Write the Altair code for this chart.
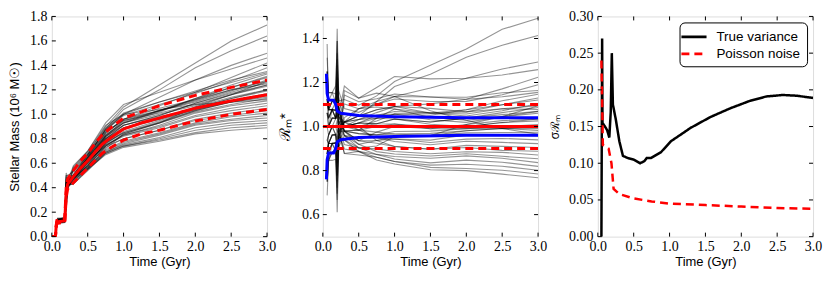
import altair as alt
import pandas as pd

W, H = 216, 221

# ---------------- data ----------------
TRACK_T = [0.06, 0.08, 0.13, 0.18, 0.2, 0.22, 0.3, 0.5, 0.75, 1.0, 1.5, 2.0, 2.5, 3.0]
TRACKS = [
    [0.09, 0.14, 0.145, 0.15, 0.45, 0.48, 0.55, 0.68, 0.90, 1.06, 1.24, 1.42, 1.60, 1.73],
    [0.07, 0.12, 0.125, 0.13, 0.30, 0.44, 0.50, 0.65, 0.88, 1.04, 1.20, 1.38, 1.52, 1.64],
    [0.10, 0.15, 0.15, 0.16, 0.50, 0.50, 0.53, 0.66, 0.87, 1.00, 1.14, 1.28, 1.40, 1.50],
    [0.06, 0.11, 0.12, 0.12, 0.25, 0.40, 0.57, 0.70, 0.93, 1.08, 1.18, 1.28, 1.37, 1.46],
    [0.08, 0.13, 0.13, 0.14, 0.40, 0.45, 0.49, 0.64, 0.84, 0.96, 1.07, 1.18, 1.30, 1.42],
    [0.11, 0.14, 0.14, 0.15, 0.52, 0.49, 0.50, 0.67, 0.87, 0.99, 1.08, 1.17, 1.27, 1.38],
    [0.055, 0.11, 0.115, 0.12, 0.22, 0.38, 0.56, 0.69, 0.89, 1.01, 1.10, 1.18, 1.26, 1.34],
    [0.085, 0.135, 0.14, 0.14, 0.38, 0.44, 0.48, 0.61, 0.82, 0.95, 1.03, 1.12, 1.22, 1.31],
    [0.075, 0.12, 0.125, 0.13, 0.33, 0.42, 0.50, 0.65, 0.85, 0.96, 1.03, 1.10, 1.19, 1.28],
    [0.09, 0.14, 0.14, 0.145, 0.42, 0.46, 0.49, 0.63, 0.80, 0.91, 0.99, 1.09, 1.18, 1.26],
    [0.065, 0.115, 0.12, 0.125, 0.28, 0.41, 0.51, 0.67, 0.86, 0.95, 1.01, 1.08, 1.16, 1.23],
    [0.10, 0.145, 0.15, 0.15, 0.48, 0.47, 0.47, 0.58, 0.77, 0.88, 0.96, 1.06, 1.14, 1.20],
    [0.08, 0.125, 0.13, 0.135, 0.36, 0.43, 0.50, 0.64, 0.82, 0.91, 0.98, 1.05, 1.13, 1.19],
    [0.07, 0.12, 0.12, 0.125, 0.31, 0.42, 0.48, 0.60, 0.76, 0.86, 0.95, 1.04, 1.11, 1.17],
    [0.085, 0.13, 0.135, 0.14, 0.39, 0.44, 0.49, 0.63, 0.80, 0.89, 0.96, 1.04, 1.10, 1.15],
    [0.06, 0.11, 0.115, 0.12, 0.26, 0.40, 0.50, 0.61, 0.77, 0.85, 0.93, 1.02, 1.08, 1.13],
    [0.095, 0.14, 0.145, 0.15, 0.44, 0.46, 0.48, 0.58, 0.74, 0.83, 0.91, 1.01, 1.07, 1.11],
    [0.075, 0.125, 0.13, 0.13, 0.35, 0.43, 0.47, 0.59, 0.75, 0.83, 0.90, 0.99, 1.05, 1.09],
    [0.08, 0.13, 0.13, 0.135, 0.37, 0.43, 0.49, 0.61, 0.75, 0.82, 0.89, 0.98, 1.03, 1.07],
    [0.09, 0.135, 0.14, 0.14, 0.41, 0.45, 0.48, 0.58, 0.73, 0.80, 0.87, 0.96, 1.01, 1.05],
    [0.07, 0.12, 0.125, 0.13, 0.32, 0.42, 0.50, 0.62, 0.74, 0.80, 0.87, 0.95, 0.99, 1.03],
    [0.105, 0.15, 0.15, 0.155, 0.50, 0.43, 0.45, 0.56, 0.71, 0.78, 0.85, 0.93, 0.98, 1.01],
    [0.065, 0.115, 0.12, 0.12, 0.27, 0.40, 0.48, 0.57, 0.70, 0.77, 0.84, 0.92, 0.96, 0.99],
    [0.08, 0.13, 0.135, 0.14, 0.38, 0.42, 0.44, 0.55, 0.69, 0.76, 0.83, 0.91, 0.95, 0.97],
    [0.06, 0.11, 0.11, 0.115, 0.24, 0.39, 0.47, 0.56, 0.69, 0.75, 0.81, 0.89, 0.93, 0.95],
    [0.085, 0.135, 0.14, 0.14, 0.40, 0.42, 0.43, 0.54, 0.68, 0.74, 0.80, 0.87, 0.91, 0.93],
    [0.075, 0.12, 0.12, 0.125, 0.30, 0.41, 0.46, 0.55, 0.68, 0.74, 0.79, 0.85, 0.89, 0.91],
    [0.09, 0.14, 0.14, 0.145, 0.43, 0.42, 0.43, 0.55, 0.67, 0.73, 0.78, 0.84, 0.87, 0.89],
    [0.07, 0.125, 0.13, 0.13, 0.34, 0.43, 0.54, 0.67, 0.88, 1.00, 1.10, 1.19, 1.28, 1.35],
    [0.10, 0.14, 0.145, 0.15, 0.46, 0.47, 0.49, 0.63, 0.83, 0.93, 1.02, 1.13, 1.24, 1.33],
    [0.08, 0.13, 0.135, 0.14, 0.39, 0.45, 0.58, 0.70, 0.91, 1.00, 1.04, 1.08, 1.10, 1.12],
    [0.065, 0.12, 0.12, 0.125, 0.29, 0.41, 0.46, 0.56, 0.72, 0.84, 0.93, 1.06, 1.16, 1.24],
    [0.085, 0.13, 0.14, 0.14, 0.40, 0.45, 0.50, 0.64, 0.83, 0.94, 1.03, 1.13, 1.22, 1.30],
    [0.075, 0.125, 0.13, 0.135, 0.35, 0.43, 0.49, 0.62, 0.80, 0.91, 0.99, 1.09, 1.17, 1.24],
    [0.09, 0.135, 0.14, 0.145, 0.42, 0.45, 0.48, 0.61, 0.79, 0.89, 0.97, 1.05, 1.13, 1.20],
    [0.07, 0.12, 0.125, 0.13, 0.32, 0.42, 0.49, 0.63, 0.82, 0.93, 1.00, 1.07, 1.16, 1.27],
    [0.10, 0.14, 0.145, 0.15, 0.47, 0.47, 0.48, 0.60, 0.76, 0.85, 0.94, 1.03, 1.10, 1.16],
    [0.065, 0.115, 0.12, 0.125, 0.28, 0.41, 0.50, 0.65, 0.85, 0.96, 1.05, 1.12, 1.20, 1.27],
    [0.08, 0.13, 0.135, 0.14, 0.38, 0.44, 0.47, 0.57, 0.74, 0.84, 0.93, 1.03, 1.10, 1.14],
    [0.095, 0.14, 0.14, 0.145, 0.44, 0.46, 0.49, 0.62, 0.81, 0.93, 1.03, 1.11, 1.20, 1.25],
]
MEAN_AT_TRACK_T = [0.08, 0.13, 0.13, 0.135, 0.36, 0.43, 0.49, 0.62, 0.79, 0.88, 0.97, 1.05, 1.11, 1.16]

MEAN_T = [0.0, 0.05, 0.06, 0.07, 0.18, 0.2, 0.22, 0.3, 0.4, 0.5, 0.6, 0.7, 0.8, 1.0, 1.25, 1.5, 2.0, 2.5, 3.0]
MEAN_M = [0.0, 0.0, 0.08, 0.12, 0.13, 0.36, 0.43, 0.49, 0.56, 0.62, 0.69, 0.755, 0.80, 0.88, 0.93, 0.97, 1.05, 1.11, 1.16]
UPPER_M = [0.0, 0.0, 0.088, 0.132, 0.143, 0.40, 0.47, 0.54, 0.62, 0.68, 0.76, 0.83, 0.88, 0.97, 1.02, 1.07, 1.155, 1.22, 1.28]
LOWER_M = [0.0, 0.0, 0.072, 0.108, 0.117, 0.32, 0.39, 0.44, 0.50, 0.56, 0.62, 0.68, 0.72, 0.79, 0.84, 0.87, 0.945, 1.00, 1.04]

BLUE_T = [0.05, 0.06, 0.08, 0.15, 0.18, 0.2, 0.25, 0.5, 1.0, 2.0, 3.0]
BLUE_UP = [1.24, 1.15, 1.12, 1.12, 1.10, 1.07, 1.06, 1.05, 1.045, 1.04, 1.04]
BLUE_LO = [0.76, 0.85, 0.88, 0.88, 0.90, 0.93, 0.94, 0.95, 0.955, 0.96, 0.96]
REF_T = [0.0, 3.0]
REF_LEVELS = [0.9, 1.0, 1.1]
REF_KIND = ["lo", "mid", "hi"]

TRUE_T = [0.05, 0.06, 0.065, 0.1, 0.13, 0.16, 0.18, 0.195, 0.21, 0.25, 0.3, 0.35, 0.42, 0.5, 0.59,
          0.65, 0.68, 0.74, 0.88, 1.02, 1.29, 1.57, 1.85, 2.12, 2.35, 2.58, 2.77, 3.0]
TRUE_V = [0.0, 0.27, 0.155, 0.15, 0.145, 0.135, 0.17, 0.25, 0.18, 0.16, 0.13, 0.11, 0.107, 0.105, 0.10,
          0.103, 0.107, 0.107, 0.115, 0.13, 0.148, 0.163, 0.175, 0.185, 0.191, 0.193, 0.192, 0.189]
POIS_T = [0.05, 0.07, 0.15, 0.19, 0.22, 0.3, 0.5, 0.75, 1.0, 1.5, 2.0, 2.5, 3.0]
POIS_V = [0.24, 0.125, 0.12, 0.10, 0.065, 0.058, 0.052, 0.048, 0.045, 0.043, 0.041, 0.039, 0.038]

X_TICKS = [0.0, 0.5, 1.0, 1.5, 2.0, 2.5, 3.0]
Y1_TICKS = [0.0, 0.2, 0.4, 0.6, 0.8, 1.0, 1.2, 1.4, 1.6, 1.8]
Y2_TICKS = [0.6, 0.8, 1.0, 1.2, 1.4]
Y3_TICKS = [0.0, 0.05, 0.10, 0.15, 0.20, 0.25, 0.30]

# ---------------- tables ----------------
rows1, rows2 = [], []
for i, tr in enumerate(TRACKS):
    rows1.append({"id": i, "t": 0.0, "v": 0.0})
    rows1.append({"id": i, "t": 0.05, "v": 0.0})
    for t, v, m in zip(TRACK_T, tr, MEAN_AT_TRACK_T):
        rows1.append({"id": i, "t": t, "v": v})
        rows2.append({"id": i, "t": t, "v": v / m})
tracks1 = pd.DataFrame(rows1)
tracks2 = pd.DataFrame(rows2)

mean_df = pd.DataFrame({"t": MEAN_T * 3,
                        "v": MEAN_M + UPPER_M + LOWER_M,
                        "k": ["mid"] * len(MEAN_T) + ["hi"] * len(MEAN_T) + ["lo"] * len(MEAN_T)})
blue_df = pd.DataFrame({"t": BLUE_T * 2, "v": BLUE_UP + BLUE_LO,
                        "k": ["hi"] * len(BLUE_T) + ["lo"] * len(BLUE_T)})
ref_rows = []
for lv, kd in zip(REF_LEVELS, REF_KIND):
    for t in REF_T:
        ref_rows.append({"t": t, "v": lv, "k": kd})
ref_df = pd.DataFrame(ref_rows)
var_df = pd.DataFrame({"t": TRUE_T + POIS_T, "v": TRUE_V + POIS_V,
                       "s": ["True variance"] * len(TRUE_T) + ["Poisson noise"] * len(POIS_T)})

SERIF = "Liberation Serif"
SANS = "Liberation Sans"
GRAY_OP = 0.42


def xaxis():
    return alt.Axis(values=X_TICKS, format=".1f", ticks=False, domain=False, grid=False,
                    labelFont=SERIF, labelFontSize=14, labelColor="black", labelPadding=3,
                    labelFlush=False, labelOverlap=False,
                    title="Time (Gyr)", titleFont=SANS, titleFontSize=13, titleFontWeight="normal",
                    titleColor="black", titlePadding=2)


def yaxis(values, fmt, title, tsize, tpad, lpad):
    return alt.Axis(values=values, format=fmt, ticks=False, domain=False, grid=False,
                    labelFont=SERIF, labelFontSize=14, labelColor="black", labelPadding=lpad,
                    labelFlush=False, labelOverlap=False,
                    title=title, titleFont=SANS, titleFontSize=tsize, titleFontWeight="normal",
                    titleColor="black", titlePadding=tpad)


XS = alt.Scale(domain=[0, 3], nice=False, zero=False)
DASH = alt.Scale(domain=["mid", "hi", "lo"], range=[[1, 0], [8, 5], [8, 5]])


def tick_layers(yticks, yscale, yax):
    tx = pd.DataFrame({"t": X_TICKS})
    ty = pd.DataFrame({"v": yticks})
    base_x = alt.Chart(tx).mark_rule(color="black", strokeWidth=1)
    base_y = alt.Chart(ty).mark_rule(color="black", strokeWidth=1)
    xe = alt.X("t:Q", scale=XS, axis=xaxis())
    ye = alt.Y("v:Q", scale=yscale, axis=yax)
    return [
        base_x.encode(x=xe, y=alt.value(H), y2=alt.value(H - 4)),
        base_x.encode(x=xe, y=alt.value(0), y2=alt.value(4)),
        base_y.encode(y=ye, x=alt.value(0), x2=alt.value(4)),
        base_y.encode(y=ye, x=alt.value(W), x2=alt.value(W - 4)),
    ]


# ---------------- panel 1 ----------------
YS1 = alt.Scale(domain=[0, 1.8], nice=False, zero=False)
YA1 = yaxis(Y1_TICKS, ".1f", "Stellar Mass (10⁶ M☉)", 13, 8, 5)
g1 = alt.Chart(tracks1).mark_line(color="black", opacity=GRAY_OP, strokeWidth=1.1, clip=True).encode(
    x=alt.X("t:Q", scale=XS, axis=xaxis()),
    y=alt.Y("v:Q", scale=YS1, axis=YA1),
    detail="id:N")
m1 = alt.Chart(mean_df).mark_line(color="red", strokeWidth=3, clip=True).encode(
    x=alt.X("t:Q", scale=XS, axis=xaxis()), y=alt.Y("v:Q", scale=YS1, axis=YA1),
    strokeDash=alt.StrokeDash("k:N", scale=DASH, legend=None),
    detail="k:N")
p1 = alt.layer(g1, m1, *tick_layers(Y1_TICKS, YS1, YA1)).properties(width=W, height=H)

# ---------------- panel 2 ----------------
YS2 = alt.Scale(domain=[0.5, 1.5], nice=False, zero=False)
YA2 = yaxis(Y2_TICKS, ".1f", "ℛₘ*", 15, 9, 4)
g2 = alt.Chart(tracks2).mark_line(color="black", opacity=GRAY_OP, strokeWidth=1.1, clip=True).encode(
    x=alt.X("t:Q", scale=XS, axis=xaxis()),
    y=alt.Y("v:Q", scale=YS2, axis=YA2),
    detail="id:N")
r2 = alt.Chart(ref_df).mark_line(color="red", strokeWidth=3, clip=True).encode(
    x=alt.X("t:Q", scale=XS, axis=xaxis()), y=alt.Y("v:Q", scale=YS2, axis=YA2),
    strokeDash=alt.StrokeDash("k:N", scale=DASH, legend=None),
    detail="k:N")
b2 = alt.Chart(blue_df).mark_line(color="blue", strokeWidth=3, clip=True).encode(
    x=alt.X("t:Q", scale=XS, axis=xaxis()), y=alt.Y("v:Q", scale=YS2, axis=YA2), detail="k:N")
p2 = alt.layer(g2, r2, b2, *tick_layers(Y2_TICKS, YS2, YA2)).properties(width=W, height=H)

# ---------------- panel 3 ----------------
YS3 = alt.Scale(domain=[0, 0.3], nice=False, zero=False)
YA3 = yaxis(Y3_TICKS, ".2f", "σℛₘ", 12, 7, 5)
leg = alt.Legend(orient="top-right", title=None, strokeColor="black", cornerRadius=5, padding=6,
                 offset=6, labelFont=SANS, labelFontSize=13.5, labelColor="black", labelOffset=14,
                 symbolType="M-1.8,0H1.8", symbolSize=196, symbolStrokeWidth=2.7, rowPadding=2,
                 fillColor="white")
SER = ["True variance", "Poisson noise"]
v3 = alt.Chart(var_df).mark_line(strokeWidth=2.5, clip=True).encode(
    x=alt.X("t:Q", scale=XS, axis=xaxis()),
    y=alt.Y("v:Q", scale=YS3, axis=YA3),
    color=alt.Color("s:N", scale=alt.Scale(domain=SER, range=["black", "red"]), legend=leg, sort=SER),
    strokeDash=alt.StrokeDash("s:N", scale=alt.Scale(domain=SER, range=[[1, 0], [8, 5]]),
                              legend=leg, sort=SER))
p3 = alt.layer(v3, *tick_layers(Y3_TICKS, YS3, YA3)).properties(width=W, height=H)

chart = alt.hconcat(p1, p2, p3, spacing=0).resolve_scale(
    color="independent", strokeDash="independent").properties(
    padding={"left": 0, "top": 0, "right": 0, "bottom": 0}).configure_view(
    stroke="black", strokeWidth=1).configure(background="white")

chart.save("out.html", embed_options={"renderer": "svg", "actions": False})
